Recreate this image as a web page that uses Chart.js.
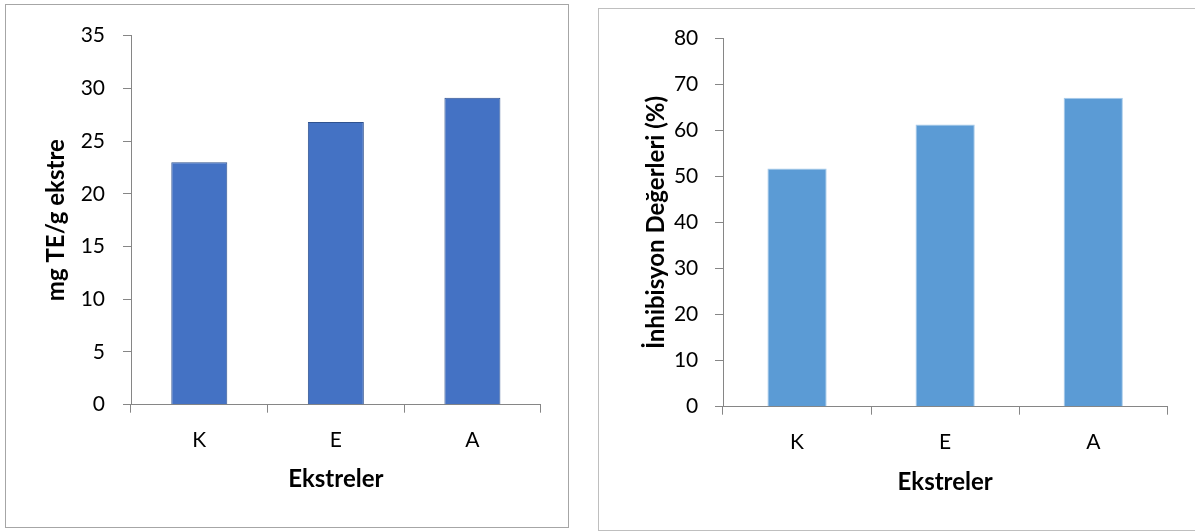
<!DOCTYPE html>
<html>
<head>
<meta charset="utf-8">
<script src="https://cdn.jsdelivr.net/npm/chart.js@4.4.1/dist/chart.umd.min.js"></script>
<style>
  html, body { margin: 0; padding: 0; background: #fff; width: 1195px; height: 531px; overflow: hidden; }
  .box { position: absolute; box-sizing: border-box; background: #fff; }
  #boxLeft  { left: 5px;   top: 4px; width: 564px; height: 524px; border: 1px solid #A6A6A6; }
  #boxRight { left: 598px; top: 8px; width: 602px; height: 523px; border: 1px solid #BFBFBF; }
  canvas { display: block; }
</style>
</head>
<body>
<div class="box" id="boxLeft"><canvas id="chartLeft" width="562" height="522"></canvas></div>
<div class="box" id="boxRight"><canvas id="chartRight" width="600" height="521"></canvas></div>
<script>
// Extract categories shared by both charts
const categories = ['K', 'E', 'A'];

// Antioxidant capacity (mg TE / g extract)
const teValues = [23.0, 26.8, 29.1];
const teTicks = { min: 0, max: 35, step: 5 };

// Inhibition values (%)
const inhibitionValues = [51.7, 61.3, 67.1];
const inhibitionTicks = { min: 0, max: 80, step: 10 };

const xTitle = 'Ekstreler';
const leftYTitle = 'mg TE/g ekstre';
const rightYTitle = 'İnhibisyon Değerleri (%)';

const FONT = 'Lato, "Open Sans", "Liberation Sans", sans-serif';
const AXIS_GREY = '#868686';

function buildChart(canvasId, cfg) {
  const ctx = document.getElementById(canvasId).getContext('2d');
  return new Chart(ctx, {
    type: 'bar',
    data: {
      labels: categories,
      datasets: [{
        data: cfg.values,
        backgroundColor: cfg.fill,
        borderColor: cfg.stroke,
        borderWidth: 1,
        barPercentage: cfg.barPct,
        categoryPercentage: 1.0
      }]
    },
    options: {
      responsive: false,
      animation: false,
      devicePixelRatio: 1,
      layout: { padding: { left: 0, right: cfg.padRight, top: cfg.padTop, bottom: 0 } },
      plugins: { legend: { display: false }, tooltip: { enabled: false } },
      scales: {
        x: {
          grid: { display: true, drawOnChartArea: false, drawTicks: true, tickLength: 8, color: AXIS_GREY, offset: true },
          border: { display: true, color: AXIS_GREY, width: 1 },
          ticks: { color: '#000', font: { family: FONT, size: 21 }, padding: 14.7 },
          title: {
            display: true, text: xTitle, color: '#000',
            font: { family: FONT, size: 24, weight: 'bold' },
            padding: { top: 0, bottom: cfg.xTitlePad }
          },
          afterFit: (s) => { s.height = cfg.xHeight; }
        },
        y: {
          min: cfg.ticks.min, max: cfg.ticks.max,
          grid: { display: true, drawOnChartArea: false, drawTicks: true, tickLength: 8, color: AXIS_GREY },
          border: { display: true, color: AXIS_GREY, width: 1 },
          ticks: { stepSize: cfg.ticks.step, color: '#000', font: { family: FONT, size: 21 }, padding: cfg.yTickPad },
          title: {
            display: true, text: cfg.yTitle, color: '#000',
            font: { family: FONT, size: 24, weight: 'bold' },
            padding: { top: cfg.yTitlePad, bottom: 0 }
          },
          afterFit: (s) => { s.width = cfg.yWidth; }
        }
      }
    }
  });
}

buildChart('chartLeft', {
  values: teValues, ticks: teTicks, yTitle: leftYTitle,
  fill: '#4472C4', stroke: '#2F528F', barPct: 0.41,
  padRight: 27.3, padTop: 28.7, xHeight: 122.3, yWidth: 125,
  xTitlePad: 33.6, yTitlePad: 35.6, yTickPad: 18
});

buildChart('chartRight', {
  values: inhibitionValues, ticks: inhibitionTicks, yTitle: rightYTitle,
  fill: '#5B9BD5', stroke: '#A8CBEA', barPct: 0.40,
  padRight: 31.7, padTop: 28.7, xHeight: 123.3, yWidth: 124,
  xTitlePad: 32.9, yTitlePad: 43.1, yTickPad: 16.7
});
</script>
</body>
</html>
